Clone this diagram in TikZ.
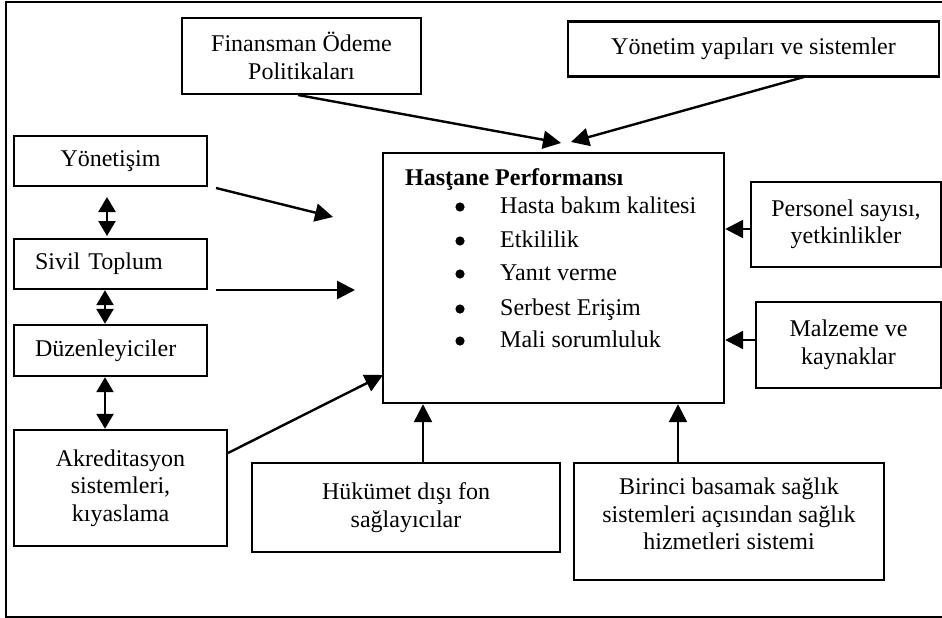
\documentclass[tikz,border=0pt]{standalone}
\usepackage{fontspec}
\setmainfont{Liberation Serif}
\usetikzlibrary{arrows.meta}
\tikzset{
  box/.style={draw, line width=2.4pt, inner sep=0pt, align=center, font=\fontsize{24}{27.5}\selectfont},
  conn/.style={line width=2.4pt, -{Triangle[length=18pt,width=18pt]}},
  dconn/.style={line width=2.4pt, {Triangle[length=15pt,width=17pt]}-{Triangle[length=15pt,width=17pt]}},
  txt/.style={inner sep=0pt, anchor=base west, font=\fontsize{24}{27.5}\selectfont},
}
\begin{document}
\begin{tikzpicture}[x=1pt,y=-1pt]
\useasboundingbox (0,0) rectangle (942,618);
% outer frame
\draw[line width=1.6pt] (960,2) -- (6,2) -- (6,617) -- (960,617);
% boxes
\node[box, minimum width=239pt, minimum height=76pt] (fin) at (301.5,56) {Finansman Ödeme\\Politikaları};
\node[box, minimum width=371pt, minimum height=55pt] (yon) at (753.5,49) {Yönetim yapıları ve sistemler};
\node[box, minimum width=193pt, minimum height=50pt] (gov) at (110.5,161) {Yönetişim};
\node[box, minimum width=193pt, minimum height=50pt, text width=151pt, align=left, inner xsep=21pt] (siv) at (110.5,264) {Sivil Toplum};
\node[box, minimum width=193pt, minimum height=51pt, text width=151pt, align=left, inner xsep=21pt] (duz) at (110.5,350.5) {Düzenleyiciler};
\node[box, minimum width=213pt, minimum height=116pt] (akr) at (120.5,488) {Akreditasyon\\sistemleri,\\kıyaslama};
\node[box, minimum width=341pt, minimum height=250pt] (main) at (553.5,278) {};
\node[box, minimum width=190pt, minimum height=85pt] (per) at (846,224.5) {Personel sayısı,\\yetkinlikler};
\node[box, minimum width=185pt, minimum height=86pt] (mal) at (848.5,345) {Malzeme ve\\kaynaklar};
\node[box, minimum width=308pt, minimum height=89pt] (huk) at (406,507.5) {Hükümet dışı fon\\sağlayıcılar};
\node[box, minimum width=310pt, minimum height=117pt] (bir) at (729,521.5) {};
\node[box, draw=none] (birt) at (729,514) {Birinci basamak sağlık\\sistemleri açısından sağlık\\hizmetleri sistemi};
% main box contents
\node[txt, font=\fontsize{24}{27.5}\selectfont\bfseries] (title) at (405,185) {Hasţane Performansı};
\foreach \y/\t [count=\i] in {213/Hasta bakım kalitesi, 247/Etkililik, 280/Yanıt verme, 315/Serbest Erişim, 347/Mali sorumluluk}{
  \fill (460,\y-6) circle (4.6pt);
  \node[txt] (item\i) at (500,\y) {\t};
}
% free ends
\coordinate (finS) at (298,95);
\coordinate (finE) at (561,143);
\coordinate (yonS) at (804,77);
\coordinate (yonE) at (571,142);
\coordinate (govS) at (216,188);
\coordinate (govE) at (333,217);
\coordinate (sivS) at (216,290);
\coordinate (sivE) at (355,290);
\coordinate (akrS) at (228,453);
\coordinate (akrE) at (383,375);
\coordinate (d1a) at (107,197);
\coordinate (d1b) at (107,236);
% connectors
\draw[conn] (finS) -- (finE);
\draw[conn] (yonS) -- (yonE);
\draw[conn] (govS) -- (govE);
\draw[conn] (sivS) -- (sivE);
\draw[conn] (akrS) -- (akrE);
\draw[conn] (huk.north -| 423,0) -- (main.south -| 423,0);
\draw[conn] (bir.north -| 678,0) -- (main.south -| 678,0);
\draw[conn] (per.west |- 0,229) -- (main.east |- 0,229);
\draw[conn] (mal.west |- 0,340) -- (main.east |- 0,340);
\draw[dconn] (d1a) -- (d1b);
\draw[dconn] (siv.south -| 105,0) -- (duz.north -| 105,0);
\draw[dconn] (duz.south -| 105,0) -- (akr.north -| 105,0);
\end{tikzpicture}
\end{document}
